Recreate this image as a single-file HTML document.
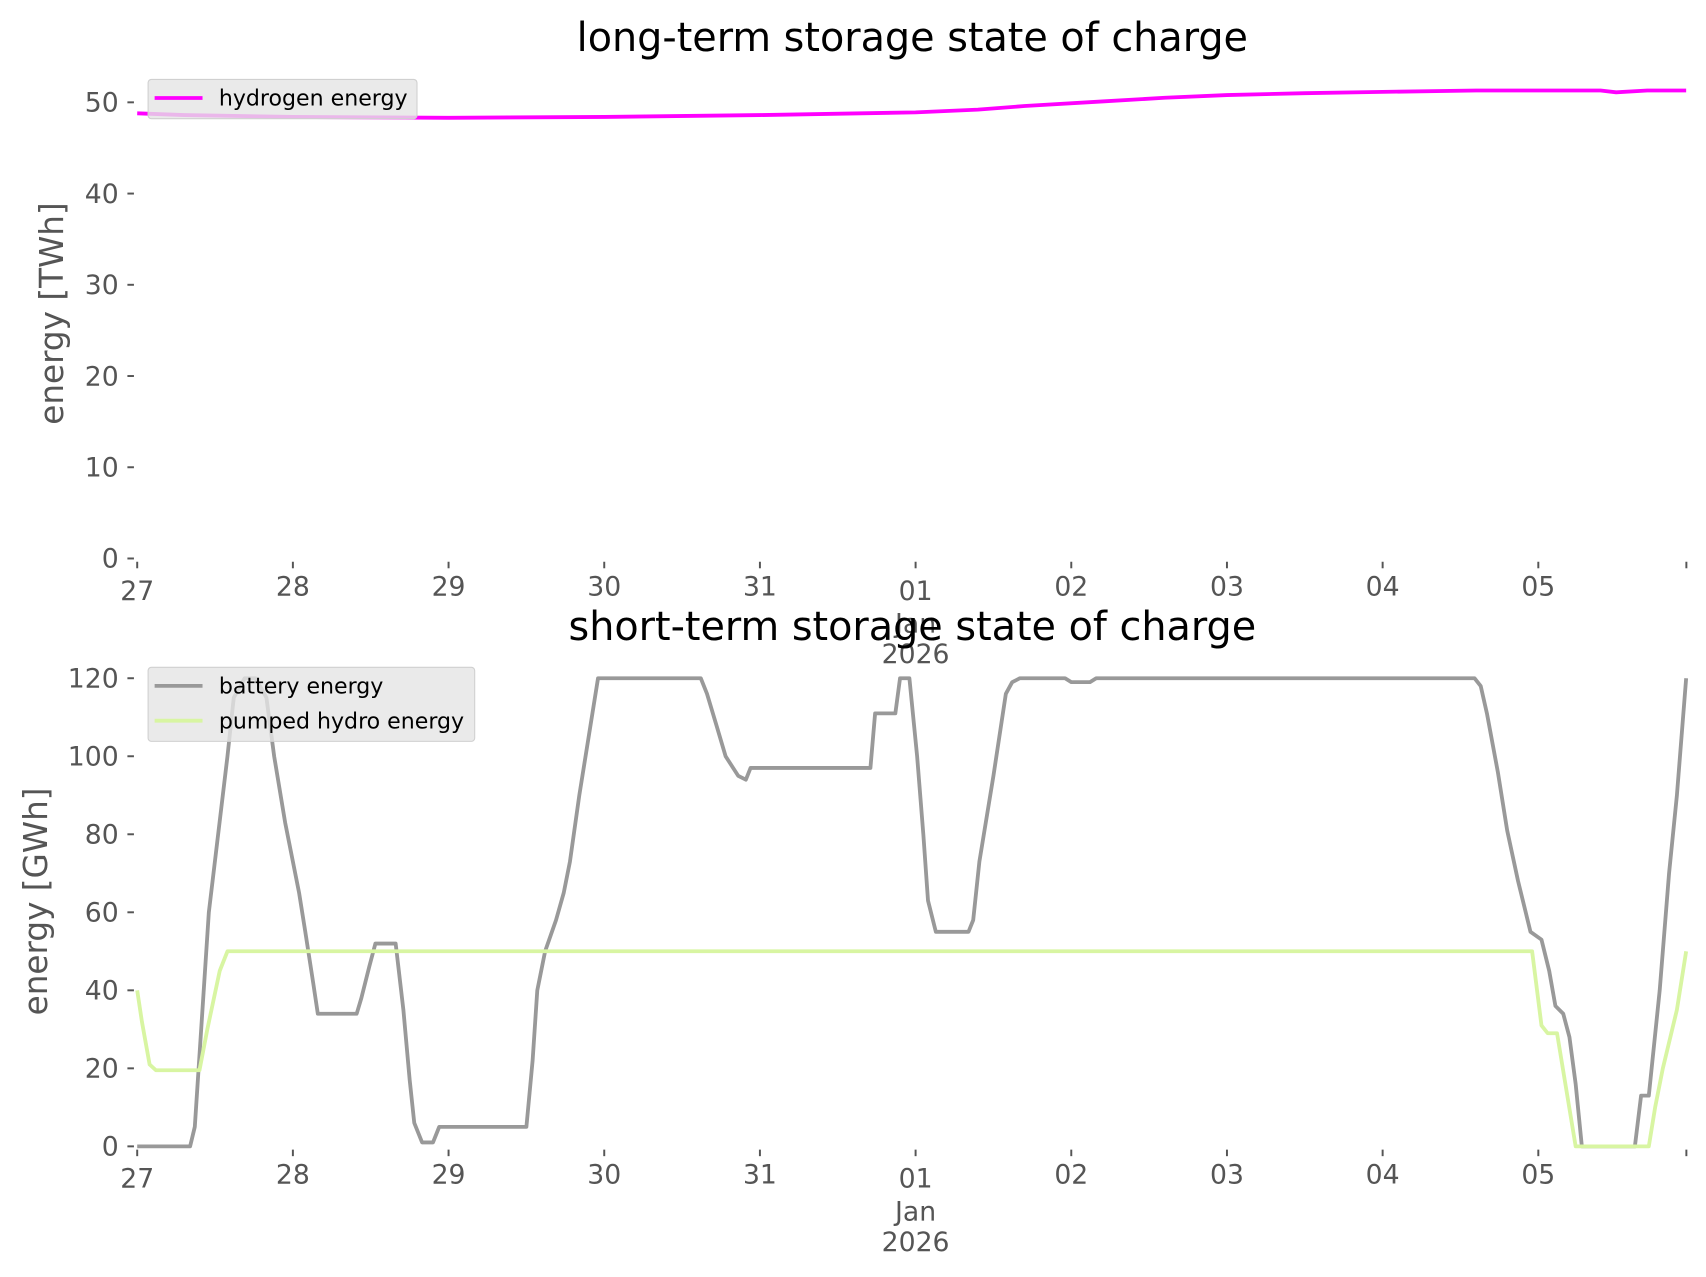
<!DOCTYPE html>
<html><head><meta charset="utf-8"><style>
html,body{margin:0;padding:0;background:#fff;}
svg{display:block;font-family:"DejaVu Sans","Liberation Sans",sans-serif;}
</style></head><body>
<svg id="chart" width="1706" height="1277" viewBox="0 0 1567 1173" xmlns="http://www.w3.org/2000/svg">
<g id="top"></g>
<g id="bot"></g>
</svg>
<script>
// Data (time in days since 27 Dec 00:00)
const dayLabels = ["27","28","29","30","31","01","02","03","04","05"];
const h2Days = [0,0.3,1,2,3,4,5,5.4,5.7,6.2,6.6,7,7.5,8,8.6,9,9.4,9.5,9.7,9.95];
const h2Vals = [48.8,48.6,48.4,48.3,48.4,48.6,48.9,49.2,49.6,50.1,50.5,50.8,51.0,51.15,51.3,51.3,51.3,51.1,51.3,51.3];
const batDays = [0,0.34,0.37,0.46,0.58,0.62,0.69,0.76,0.83,0.88,0.95,1.04,1.08,1.13,1.16,1.41,1.44,1.49,1.53,1.66,1.71,1.75,1.78,1.83,1.9,1.94,2.5,2.54,2.57,2.62,2.69,2.74,2.78,2.84,2.9,2.96,3.62,3.66,3.72,3.78,3.86,3.91,3.94,4.71,4.74,4.87,4.9,4.96,5.01,5.05,5.08,5.13,5.34,5.37,5.41,5.5,5.58,5.62,5.67,5.96,6.0,6.12,6.16,8.59,8.63,8.67,8.74,8.8,8.87,8.95,9.02,9.07,9.11,9.16,9.2,9.24,9.28,9.62,9.66,9.71,9.78,9.84,9.89,9.95];
const batVals = [0,0,5,60,100,115,120,120,115,100,83,65,55,42,34,34,38,46,52,52,35,17,6,1,1,5,5,22,40,50,58,65,73,90,105,120,120,116,108,100,95,94,97,97,111,111,120,120,100,80,63,55,55,58,73,95,116,119,120,120,119,119,120,120,118,111,96,81,68,55,53,45,36,34,28,16,0,0,13,13,40,70,90,120];
const phDays = [0,0.03,0.08,0.12,0.4,0.45,0.53,0.58,8.96,9.02,9.06,9.12,9.24,9.71,9.75,9.8,9.89,9.95];
const phVals = [40,32,21,19.5,19.5,30,45,50,50,31,29,29,0,0,10,20,35,50];
const h2Ticks = [0,10,20,30,40,50];
const stTicks = [0,20,40,60,80,100,120];

const NS="http://www.w3.org/2000/svg";
const X0=126, DAY=143, XEND=1549;
function xs(d){return X0+d*DAY;}
function mk(parent,tag,attrs,text){const e=document.createElementNS(NS,tag);for(const k in attrs)e.setAttribute(k,attrs[k]);if(text!==undefined)e.textContent=text;parent.appendChild(e);return e;}

function panel(g,cfg){
  const ys=v=>cfg.y0-(v-0)*cfg.ppu;
  const t=mk(g,'text',{x:838,y:cfg.titleY,'text-anchor':'middle','font-size':36.5,fill:'#000'},cfg.title);
  
  
  cfg.ticks.forEach(v=>{
    const l=mk(g,'line',{x1:117,x2:123,y1:ys(v),y2:ys(v),stroke:'#555','stroke-width':1.8});
    
    
    const tx=mk(g,'text',{x:109,y:ys(v)+8.5,'text-anchor':'end','font-size':24.5,fill:'#555'},String(v));
    
    
  });
  dayLabels.forEach((lab,i)=>{
    const x=xs(i);
    const l=mk(g,'line',{x1:x,x2:x,y1:cfg.y0+3,y2:cfg.y0+9,stroke:'#555','stroke-width':1.8});
    
    
    const tx=mk(g,'text',{x:x,y:cfg.y0+(i===0||i===5?38:34),'text-anchor':'middle','font-size':24.5,fill:'#555'},lab);
    
    
  });
  const le=mk(g,'line',{x1:XEND,x2:XEND,y1:cfg.y0+3,y2:cfg.y0+9,stroke:'#555','stroke-width':1.8});
  
  
  const jan=mk(g,'text',{x:xs(5),y:cfg.y0+68,'text-anchor':'middle','font-size':24.5,fill:'#555'},'Jan');
  
  
  const yr=mk(g,'text',{x:xs(5),y:cfg.y0+96,'text-anchor':'middle','font-size':24.5,fill:'#555'},'2026');
  
  
  const yl=mk(g,'text',{transform:`translate(${cfg.ylx},${cfg.ylc}) rotate(-90)`,'text-anchor':'middle','font-size':30,fill:'#555'},cfg.ylabel);
  
  
  cfg.series.forEach(s=>{
    const pts=s.d.map((d,i)=>xs(d).toFixed(1)+','+ys(s.v[i]).toFixed(1)).join(' ');
    const p=mk(g,'polyline',{points:pts,fill:'none',stroke:s.c,'stroke-width':3.5,'stroke-linejoin':'round'});
    
    
  });
  const lg=mk(g,'g',{});
  
  
  mk(lg,'rect',{x:136,y:cfg.legY,width:cfg.legW,height:4+cfg.series.length*32,rx:3,fill:'#e5e5e5','fill-opacity':0.8,stroke:'#d0d0d0','stroke-width':1});
  cfg.series.forEach((s,i)=>{
    const cy=cfg.legY+17+i*32;
    const le=mk(lg,'g',{});
    
    
    mk(le,'line',{x1:142,x2:186,y1:cy,y2:cy,stroke:s.c,'stroke-width':3.5});
    mk(le,'text',{x:201,y:cy+7,'font-size':20.3,fill:'#000'},s.label);
  });
}

panel(document.getElementById('top'),{
  title:'long-term storage state of charge',titleY:47,y0:513,ppu:419/50,ticks:h2Ticks,
  ylabel:'energy [TWh]',ylx:58,ylc:288,legY:73,legW:247,
  series:[{name:'hydrogen-line',label:'hydrogen energy',c:'#ff00ff',d:h2Days,v:h2Vals}]
});
panel(document.getElementById('bot'),{
  title:'short-term storage state of charge',titleY:588,y0:1053,ppu:430/120,ticks:stTicks,
  ylabel:'energy [GWh]',ylx:43,ylc:828,legY:613,legW:300,
  series:[{name:'battery-line',label:'battery energy',c:'#999999',d:batDays,v:batVals},
          {name:'pumped-hydro-line',label:'pumped hydro energy',c:'#d8f5a2',d:phDays,v:phVals}]
});
</script>
</body></html>
